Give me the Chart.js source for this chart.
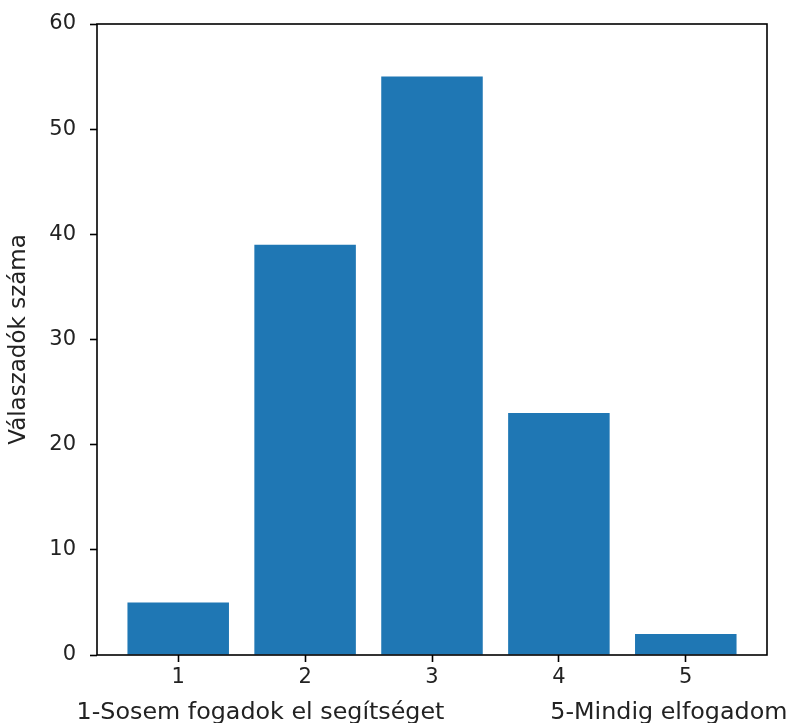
<!DOCTYPE html>
<html>
<head>
<meta charset="utf-8">
<script src="https://cdn.jsdelivr.net/npm/chart.js@4"></script>
<style>
  html, body { margin: 0; padding: 0; background: #fff; }
  #wrap { width: 790px; height: 723px; }
</style>
</head>
<body>
<div id="wrap"><canvas id="myChart" width="790" height="723"></canvas></div>
<script>
const answers = [1, 2, 3, 4, 5];
const counts = [5, 39, 55, 23, 2];
const yTicks = [0, 10, 20, 30, 40, 50, 60];
const yTitle = 'Válaszadók száma';
const xTitle = '1-Sosem fogadok el segítséget              5-Mindig elfogadom';

let ctx = document.getElementById('myChart').getContext('2d');

// frame round the plot area like matplotlib's spines, and the x label
// (the scale title gets squeezed to the axis width, this one may overhang)
const frame = {
  id: 'frame',
  afterDraw(chart) {
    const a = chart.chartArea;
    const c = chart.ctx;
    c.save();
    c.strokeStyle = '#000';
    c.lineWidth = 1.6;
    c.strokeRect(a.left, a.top, a.right - a.left, a.bottom - a.top);
    c.fillStyle = '#222';
    c.font = '23.8px "DejaVu Sans"';
    c.textAlign = 'center';
    c.textBaseline = 'alphabetic';
    c.fillText(xTitle, (a.left + a.right) / 2, 719);
    c.restore();
  }
};

const tickFont = { family: 'DejaVu Sans', size: 21 };

const myChart = new Chart(ctx, {
  type: 'bar',
  data: {
    datasets: [{
      data: answers.map((v, i) => ({ x: v, y: counts[i] })),
      backgroundColor: '#1f77b4',
      borderWidth: 0,
      barPercentage: 0.8,
      categoryPercentage: 1.0
    }]
  },
  options: {
    responsive: false,
    animation: false,
    devicePixelRatio: 1,
    layout: { padding: { left: 0, right: 23, top: 24, bottom: 0 } },
    plugins: { legend: { display: false }, tooltip: { enabled: false } },
    scales: {
      x: {
        type: 'linear',
        offset: false,
        min: 0.36,
        max: 5.64,
        afterBuildTicks: (scale) => { scale.ticks = answers.map(v => ({ value: v })); },
        afterFit: (scale) => { scale.height = 68; },
        grid: { display: true, offset: false, drawOnChartArea: false, drawTicks: true, tickLength: 7, tickColor: '#000', tickWidth: 1.6 },
        border: { display: false },
        ticks: { color: '#222', font: tickFont, padding: 3, autoSkip: false, maxRotation: 0 },
        title: { display: false }
      },
      y: {
        min: 0,
        max: 60,
        afterBuildTicks: (scale) => { scale.ticks = yTicks.map(v => ({ value: v })); },
        afterFit: (scale) => {
          scale.width = 97;
          // tick padding would otherwise push the plot top down
          scale.paddingTop = 0;
          scale.paddingBottom = 0;
        },
        grid: { display: true, drawOnChartArea: false, drawTicks: true, tickLength: 7, tickColor: '#000', tickWidth: 1.6 },
        border: { display: false },
        ticks: { color: '#222', font: tickFont, padding: 14 },
        title: { display: true, text: yTitle, color: '#222', font: { family: 'DejaVu Sans', size: 23 }, padding: { top: 5, bottom: 0 } }
      }
    }
  },
  plugins: [frame]
});
</script>
</body>
</html>
